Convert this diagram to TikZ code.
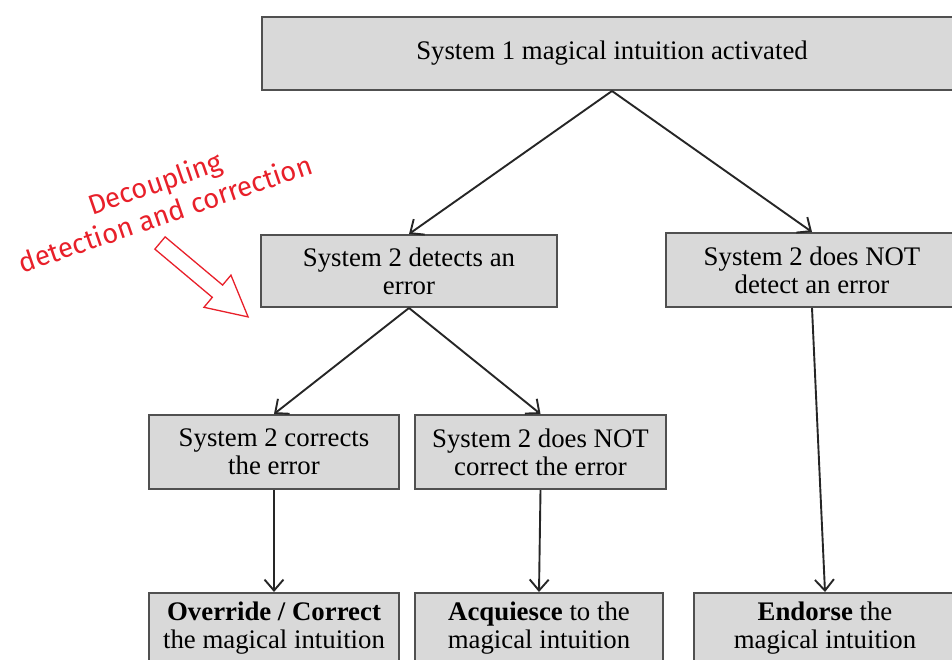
\documentclass[tikz,border=0pt]{standalone}
\usepackage{fontspec}
\setmainfont{Liberation Serif}
\newfontfamily\handfont{Fira Sans}
\usetikzlibrary{
  arrows.meta,
  positioning
}
\definecolor{boxgray}{HTML}{D9D9D9}
\definecolor{edgegray}{HTML}{505050}
\definecolor{notered}{HTML}{E8202A}
\tikzset{
  stage/.style={
    draw=edgegray,
    line width=2pt,
    fill=boxgray,
    align=center,
    inner sep=0pt,
    font=\fontsize{26.8}{28}\selectfont
  },
  flow/.style={
    draw=black!85,
    line width=1.9pt,
    -{Straight Barb[length=11pt,width=19pt,line width=1.9pt]}
  },
  note/.style={
    notered,
    align=center,
    font=\handfont\fontsize{27.5}{32}\selectfont
  }
}

\begin{document}
\begin{tikzpicture}[x=1pt,y=-1pt]
  \useasboundingbox (0,0) rectangle (952,660);
  \clip (0,0) rectangle (952,660);
  \node[stage, minimum width=700, minimum height=73] (sysone) at (612,53.5) {System 1 magical intuition activated};
  \node[stage, minimum width=296, minimum height=72] (detect) at (409,271) {System 2 detects an\\error};
  \node[stage, minimum width=292, minimum height=74] (nodetect) at (812,270) {System 2 does NOT\\detect an error};
  \node[stage, minimum width=250, minimum height=74] (correct) at (274,452) {System 2 corrects\\the error};
  \node[stage, minimum width=251, minimum height=74] (nocorrect) at (540.5,452) {System 2 does NOT\\correct the error};
  \node[stage, minimum width=250, minimum height=71] (override) at (274,628.5) {\textbf{Override / Correct}\\the magical intuition};
  \node[stage, minimum width=248, minimum height=71] (acquiesce) at (539,628.5) {\textbf{Acquiesce} to the\\magical intuition};
  \node[stage, minimum width=262, minimum height=71] (endorse) at (825,628.5) {\textbf{Endorse} the\\magical intuition};

  \draw[flow] (sysone.south) -- (detect.north);
  \draw[flow] (sysone.south) -- (nodetect.north);
  \draw[flow] (detect.south) -- (correct.north);
  \draw[flow] (detect.south) -- (nocorrect.north);
  \draw[flow] (correct.south) -- (override.north);
  \draw[flow] (nocorrect.south) -- (acquiesce.north);
  \draw[flow] (nodetect.south) -- (endorse.north);

  % red remark
  \node[note, rotate=19] (remark) at (160,198) {Decoupling\\detection and correction};
  \begin{scope}[shift={(160,243)}, rotate=-40]
    \draw[notered, line width=1.3pt, line join=miter]
      (0,-8) -- (75,-8) -- (75,-21) -- (115,0) -- (75,21) -- (75,8) -- (0,8) -- cycle;
  \end{scope}
\end{tikzpicture}
\end{document}
